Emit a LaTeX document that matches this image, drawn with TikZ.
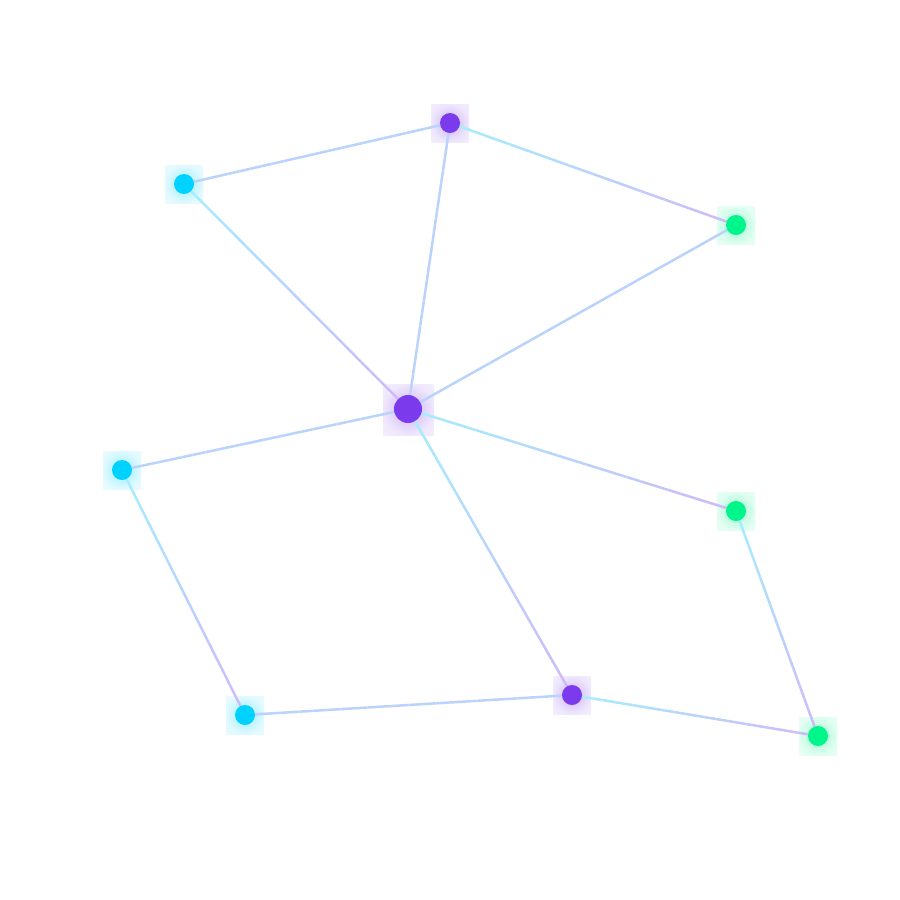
\documentclass[tikz,border=0pt]{standalone}
\usetikzlibrary{calc}
\definecolor{pu}{HTML}{7C3AED}
\definecolor{cy}{HTML}{00D2FF}
\definecolor{gr}{HTML}{00F58A}
\pgfdeclareradialshading{glowpu}{\pgfpoint{0bp}{0bp}}{color(0bp)=(pu!38!white);color(13bp)=(pu!25!white);color(25bp)=(pu!12!white);color(36bp)=(pu!8!white);color(50bp)=(pu!8!white)}
\pgfdeclareradialshading{glowcy}{\pgfpoint{0bp}{0bp}}{color(0bp)=(cy!38!white);color(13bp)=(cy!25!white);color(25bp)=(cy!12!white);color(36bp)=(cy!8!white);color(50bp)=(cy!8!white)}
\pgfdeclareradialshading{glowgr}{\pgfpoint{0bp}{0bp}}{color(0bp)=(gr!38!white);color(13bp)=(gr!25!white);color(25bp)=(gr!12!white);color(36bp)=(gr!8!white);color(50bp)=(gr!8!white)}
\newdimen\exa \newdimen\eya \newdimen\exb \newdimen\eyb
\newcommand\gedge[2]{%
 \pgfextractx{\exa}{\pgfpointanchor{#1}{center}}%
 \pgfextracty{\eya}{\pgfpointanchor{#1}{center}}%
 \pgfextractx{\exb}{\pgfpointanchor{#2}{center}}%
 \pgfextracty{\eyb}{\pgfpointanchor{#2}{center}}%
 \pgfmathsetmacro\su{\exb>\exa ? 1 : 0}%
 \pgfmathsetmacro\sv{\eyb<\eya ? 1 : 0}%
 \foreach \k in {0,...,23}{%
   \pgfmathsetmacro\ta{\k/24}%
   \pgfmathsetmacro\tb{(\k+1)/24}%
   \pgfmathsetmacro\tm{(\k+0.5)/24}%
   \pgfmathsetmacro\uu{\su==1 ? \tm : 1-\tm}%
   \pgfmathsetmacro\vv{\sv==1 ? \tm : 1-\tm}%
   \pgfmathtruncatemacro\pp{50*(\uu+\vv)}%
   \draw[edgeline, color=pu!\pp!cy!36!white] ($(#1)!\ta!(#2)$) -- ($(#1)!\tb!(#2)$);
 }%
}
\tikzset{
  edgeline/.style={line width=2.5pt},
  dot/.style={circle, inner sep=0pt, minimum size=20pt},
  bigdot/.style={circle, inner sep=0pt, minimum size=28pt},
}
\begin{document}
\begin{tikzpicture}[x=1pt,y=-1pt]
\useasboundingbox (0,0) rectangle (900,900);
% glow squares
\shade[shading=glowpu] (431,104) rectangle (469,142);
\shade[shading=glowcy] (165,165) rectangle (203,203);
\shade[shading=glowgr] (717,206) rectangle (755,244);
\shade[shading=glowpu] (383,384) rectangle (434,435);
\shade[shading=glowcy] (103,451) rectangle (141,489);
\shade[shading=glowgr] (717,492) rectangle (755,530);
\shade[shading=glowpu] (553,676) rectangle (591,714);
\shade[shading=glowcy] (226,696) rectangle (264,734);
\shade[shading=glowgr] (799,717) rectangle (837,755);
% node anchors
\coordinate (A) at (450,123);
\coordinate (B) at (184,184);
\coordinate (C) at (736,225);
\coordinate (D) at (408,409);
\coordinate (E) at (122,470);
\coordinate (F) at (736,511);
\coordinate (G) at (572,695);
\coordinate (H) at (245,715);
\coordinate (I) at (818,736);
% edges
\gedge{B}{A}
\gedge{A}{C}
\gedge{A}{D}
\gedge{B}{D}
\gedge{D}{C}
\gedge{E}{D}
\gedge{D}{F}
\gedge{D}{G}
\gedge{E}{H}
\gedge{H}{G}
\gedge{G}{I}
\gedge{F}{I}
% nodes
\node[dot, fill=pu] (nA) at (A) {};
\node[dot, fill=cy] (nB) at (B) {};
\node[dot, fill=gr] (nC) at (C) {};
\node[bigdot, fill=pu] (nD) at (D) {};
\node[dot, fill=cy] (nE) at (E) {};
\node[dot, fill=gr] (nF) at (F) {};
\node[dot, fill=pu] (nG) at (G) {};
\node[dot, fill=cy] (nH) at (H) {};
\node[dot, fill=gr] (nI) at (I) {};
\end{tikzpicture}
\end{document}
